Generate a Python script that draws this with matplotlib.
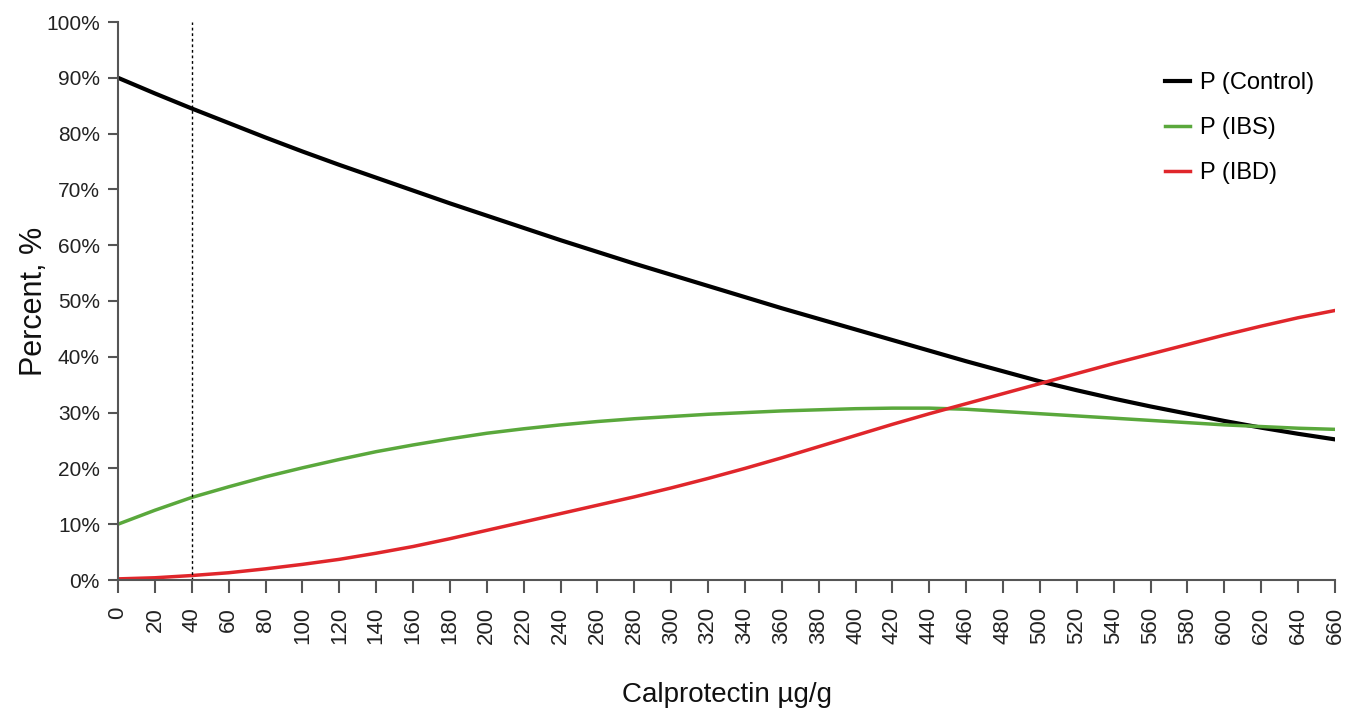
import numpy as np
import matplotlib.pyplot as plt
from matplotlib.ticker import PercentFormatter

plt.rcParams['font.family'] = ['Liberation Sans', 'DejaVu Sans']

# calprotectin (ug/g) and probabilities in percent
calpro = np.arange(0, 661, 20)
p_control = [90, 87.2, 84.5, 81.9, 79.3, 76.8, 74.4, 72.1, 69.8, 67.5, 65.3, 63.1, 60.9, 58.8,
             56.7, 54.7, 52.7, 50.7, 48.7, 46.8, 44.9, 43.0, 41.1, 39.2, 37.4, 35.6,
             34.0, 32.5, 31.1, 29.8, 28.5, 27.3, 26.2, 25.2]
p_ibs = [10, 12.5, 14.8, 16.7, 18.5, 20.1, 21.6, 23.0, 24.2, 25.3, 26.3, 27.1, 27.8, 28.4,
         28.9, 29.3, 29.7, 30.0, 30.3, 30.5, 30.7, 30.8, 30.8, 30.6, 30.2, 29.8,
         29.4, 29.0, 28.6, 28.2, 27.8, 27.5, 27.2, 27.0]
p_ibd = [0.2, 0.4, 0.8, 1.3, 2.0, 2.8, 3.7, 4.8, 6.0, 7.4, 8.9, 10.4, 11.9, 13.4,
         14.9, 16.5, 18.2, 20.0, 21.9, 23.9, 25.9, 27.9, 29.8, 31.6, 33.4, 35.2,
         37.0, 38.8, 40.5, 42.2, 43.9, 45.5, 47.0, 48.3]
cutoff = 40

fig = plt.figure(figsize=(13.46, 7.14), dpi=100)
ax = fig.add_axes([118/1346, 1 - 580/714, 1217/1346, 558/714])

ax.plot(calpro, p_control, color='black', lw=3, label='P (Control)')
ax.plot(calpro, p_ibs, color='#5aa83c', lw=2.5, label='P (IBS)')
ax.plot(calpro, p_ibd, color='#e0262b', lw=2.5, label='P (IBD)')
ax.axvline(cutoff, color='black', ls=(0, (2, 2)), lw=1)

ax.set_xlim(0, 660)
ax.set_ylim(0, 100)
ax.set_xticks(calpro)
ax.set_yticks(np.arange(0, 101, 10))
ax.yaxis.set_major_formatter(PercentFormatter(decimals=0))
ax.tick_params(axis='x', rotation=90, labelsize=16, length=9.5, width=1.5,
               color='#555555', labelcolor='#222222', pad=10)
ax.tick_params(axis='y', labelsize=15, length=7, width=1.5,
               color='#555555', labelcolor='#222222', pad=6)
for s in ['top', 'right']:
    ax.spines[s].set_visible(False)
for s in ['left', 'bottom']:
    ax.spines[s].set_color('#555555')
    ax.spines[s].set_linewidth(1.5)
ax.margins(0)

ax.set_xlabel('Calprotectin µg/g', fontsize=20, labelpad=27, color='#111111')
ax.set_ylabel('Percent, %', fontsize=22, labelpad=-2, color='#111111')

ax.legend(loc='upper left', bbox_to_anchor=(1165/1346, 1 - 72/714),
          bbox_transform=fig.transFigure, frameon=False, fontsize=17,
          borderpad=0, borderaxespad=0, handlelength=1.05,
          labelspacing=0.97, handletextpad=0.45)

fig.savefig('out.png', dpi=100)
